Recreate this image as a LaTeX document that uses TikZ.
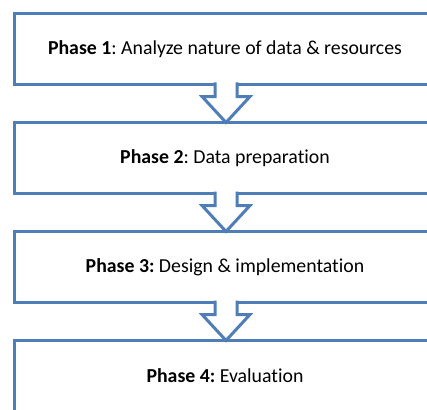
\documentclass[tikz,border=0pt]{standalone}
\usepackage{fontspec}
\setmainfont{Carlito}[Ligatures=NoCommon]
\usetikzlibrary{positioning, calc}
\definecolor{phaseblue}{RGB}{79,125,184}
\frenchspacing
\tikzset{
  phasebox/.style={draw=phaseblue, line width=3pt, fill=white, outer sep=0pt,
    minimum width=422pt, minimum height=71pt, font=\fontsize{19.8}{24}\selectfont},
  phasearrow/.style={draw=phaseblue, line width=3pt, fill=white, line join=miter}
}

\begin{document}
\begin{tikzpicture}[x=1pt, y=-1pt, node distance=38pt]
        \useasboundingbox (0,0) rectangle (427,409);
        \clip (0,0) rectangle (427,409);

        \node[phasebox] (p1) at (225,49) {\textbf{Phase 1}: Analyze nature of data \& resources};
        \node[phasebox, below=of p1] (p2) {\textbf{Phase 2}: Data preparation};
        \node[phasebox, below=of p2] (p3) {\textbf{Phase 3:} Design \& implementation};
        \node[phasebox, below=of p3] (p4) {\textbf{Phase 4:} Evaluation};

        % hollow block arrows, shaft opens into the box above
        \foreach \a/\b in {p1/p2, p2/p3, p3/p4}
        {
        \coordinate (s) at ($(\a.south)+(1,0)$);
        \filldraw[phasearrow] ($(s)+(-11,-2)$) -- ($(s)+(-11,12)$) -- ($(s)+(-24,12)$)
            -- ($(\b.north)+(1,0)$) -- ($(s)+(24,12)$) -- ($(s)+(11,12)$) -- ($(s)+(11,-2)$);
        }
        \end{tikzpicture}
\end{document}
